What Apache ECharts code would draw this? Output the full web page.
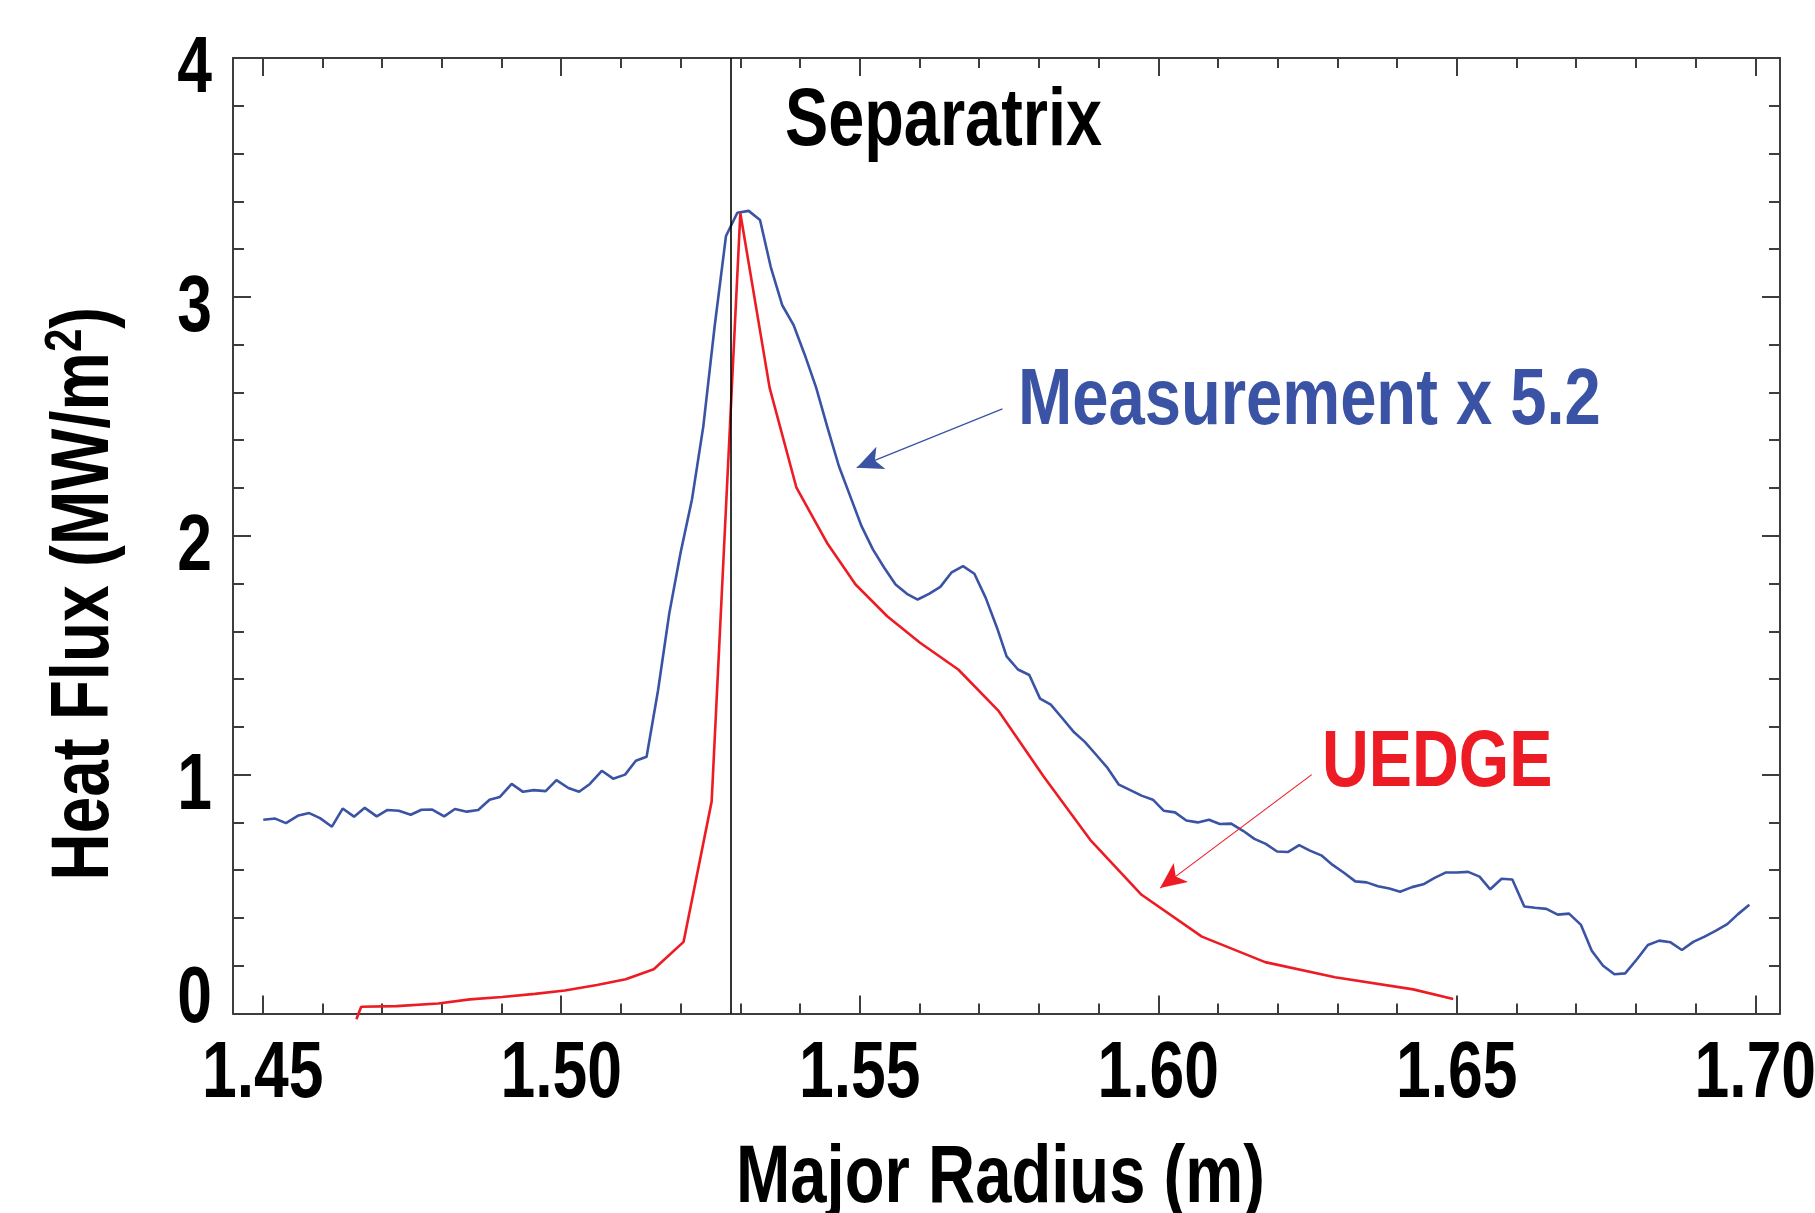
<!DOCTYPE html>
<html>
<head>
<meta charset="utf-8">
<title>Heat Flux vs Major Radius</title>
<script src="https://cdn.jsdelivr.net/npm/echarts@6/dist/echarts.min.js"></script>
<style>
  html, body { margin: 0; padding: 0; background: #ffffff; }
  #chart { width: 1815px; height: 1213px; }
</style>
</head>
<body>
<div id="chart"></div>
<script>
// Measured divertor heat flux (scaled by 5.2): major radius (m) and heat flux (MW/m^2)
const MEAS_R = [
  1.4501, 1.4521, 1.4539, 1.4560, 1.4578, 1.4596, 1.4616, 1.4634, 1.4653, 1.4671,
  1.4691, 1.4709, 1.4728, 1.4748, 1.4766, 1.4784, 1.4804, 1.4822, 1.4842, 1.4861,
  1.4880, 1.4897, 1.4917, 1.4936, 1.4954, 1.4974, 1.4992, 1.5012, 1.5030, 1.5048,
  1.5068, 1.5087, 1.5107, 1.5125, 1.5143, 1.5162, 1.5181, 1.5200, 1.5219, 1.5238,
  1.5257, 1.5276, 1.5295, 1.5314, 1.5333, 1.5351, 1.5370, 1.5389, 1.5408, 1.5427,
  1.5446, 1.5465, 1.5484, 1.5503, 1.5522, 1.5541, 1.5560, 1.5579, 1.5597, 1.5616,
  1.5635, 1.5654, 1.5673, 1.5692, 1.5711, 1.5730, 1.5746, 1.5765, 1.5784, 1.5802,
  1.5820, 1.5839, 1.5859, 1.5877, 1.5897, 1.5915, 1.5934, 1.5954, 1.5972, 1.5991,
  1.6009, 1.6028, 1.6047, 1.6066, 1.6085, 1.6103, 1.6122, 1.6142, 1.6161, 1.6180,
  1.6199, 1.6217, 1.6236, 1.6254, 1.6273, 1.6292, 1.6311, 1.6330, 1.6349, 1.6368,
  1.6387, 1.6405, 1.6425, 1.6444, 1.6462, 1.6481, 1.6500, 1.6519, 1.6538, 1.6556,
  1.6575, 1.6593, 1.6613, 1.6631, 1.6650, 1.6669, 1.6688, 1.6708, 1.6726, 1.6745,
  1.6764, 1.6782, 1.6802, 1.6820, 1.6839, 1.6858, 1.6877, 1.6896, 1.6915, 1.6934,
  1.6953, 1.6971, 1.6990
];
const MEAS_Q = [
  0.811, 0.816, 0.797, 0.829, 0.839, 0.818, 0.782, 0.858, 0.824, 0.861,
  0.825, 0.852, 0.849, 0.832, 0.853, 0.854, 0.825, 0.856, 0.845, 0.852,
  0.895, 0.906, 0.961, 0.928, 0.935, 0.931, 0.977, 0.944, 0.928, 0.961,
  1.016, 0.983, 1.000, 1.058, 1.075, 1.350, 1.675, 1.930, 2.152, 2.458,
  2.877, 3.255, 3.352, 3.360, 3.322, 3.125, 2.966, 2.883, 2.757, 2.620,
  2.453, 2.292, 2.166, 2.040, 1.943, 1.866, 1.796, 1.757, 1.733, 1.757,
  1.786, 1.847, 1.873, 1.841, 1.740, 1.614, 1.495, 1.440, 1.417, 1.318,
  1.293, 1.237, 1.177, 1.137, 1.080, 1.028, 0.958, 0.934, 0.912, 0.895,
  0.849, 0.842, 0.808, 0.800, 0.811, 0.793, 0.795, 0.765, 0.731, 0.710,
  0.678, 0.676, 0.705, 0.682, 0.662, 0.622, 0.589, 0.553, 0.549, 0.533,
  0.523, 0.510, 0.529, 0.541, 0.567, 0.590, 0.590, 0.593, 0.573, 0.520,
  0.564, 0.561, 0.448, 0.443, 0.438, 0.414, 0.418, 0.371, 0.263, 0.200,
  0.164, 0.168, 0.228, 0.287, 0.305, 0.298, 0.266, 0.300, 0.322, 0.347,
  0.374, 0.416, 0.455
];

// UEDGE simulation: major radius (m) and heat flux (MW/m^2)
const UEDGE_R = [
  1.4657, 1.4665, 1.4724, 1.4794, 1.4847, 1.4901, 1.4956, 1.5006, 1.5060, 1.5108,
  1.5155, 1.5205, 1.5252, 1.5300, 1.5349, 1.5394, 1.5445, 1.5493, 1.5546, 1.5601,
  1.5665, 1.5732, 1.5808, 1.5886, 1.5972, 1.6073, 1.6179, 1.6296, 1.6427, 1.6494
];
const UEDGE_Q = [
  -0.024, 0.028, 0.031, 0.042, 0.059, 0.069, 0.082, 0.096, 0.119, 0.143,
  0.185, 0.300, 0.888, 3.350, 2.620, 2.201, 1.971, 1.796, 1.663, 1.552,
  1.440, 1.268, 0.992, 0.727, 0.497, 0.322, 0.215, 0.152, 0.101, 0.061
];

// Separatrix position (m)
const SEPARATRIX_R = 1.5284;

// Annotation arrows: [tail, head] in (m, MW/m^2)
const MEAS_ARROW = [[1.5739, 2.531], [1.5495, 2.285]];
const UEDGE_ARROW = [[1.6257, 1.000], [1.6003, 0.525]];

// Axis ranges and tick positions
const X_RANGE = [1.44503, 1.70413];
const X_MAJOR_TICKS = [1.45, 1.50, 1.55, 1.60, 1.65, 1.70];
const X_MINOR_TICKS = [
  1.46, 1.47, 1.48, 1.49, 1.51, 1.52, 1.53, 1.54, 1.56, 1.57, 1.58, 1.59,
  1.61, 1.62, 1.63, 1.64, 1.66, 1.67, 1.68, 1.69
];
const Y_RANGE = [0, 4];
const Y_STEP = 1;
const Y_TICK_LABELS = [0, 1, 2, 3, 4];

// Text
const X_TITLE = 'Major Radius (m)';
const Y_TITLE_RICH = '{n|Heat Flux (MW/m}{s|2}{n|)}';
const NOTE_SEPARATRIX = 'Separatrix';
const NOTE_MEAS = 'Measurement x 5.2';
const NOTE_UEDGE = 'UEDGE';

// Bold condensed lettering: Liberation Sans Bold squeezed horizontally
const FONT = '"Liberation Sans", Arial, Helvetica, sans-serif';
const boldFont = size => 'bold ' + size + 'px ' + FONT;
const BLUE = '#3a53a4';
const RED = '#ed1c24';
const AXIS_COLOR = '#3d3d3d';

const zip = (xs, ys) => xs.map((x, i) => [x, ys[i]]);

const chart = echarts.init(document.getElementById('chart'), null, { renderer: 'canvas' });

function xAxisDef(position, ticks, len, withLine) {
  return {
    type: 'value',
    position: position,
    min: X_RANGE[0],
    max: X_RANGE[1],
    axisLine: { show: withLine, onZero: false, lineStyle: { color: AXIS_COLOR, width: 2 } },
    axisTick: { show: true, inside: true, length: len, customValues: ticks,
                lineStyle: { color: AXIS_COLOR, width: 2 } },
    axisLabel: { show: false },
    splitLine: { show: false }
  };
}

function yAxisDef(position) {
  return {
    type: 'value',
    position: position,
    min: Y_RANGE[0],
    max: Y_RANGE[1],
    interval: Y_STEP,
    axisLine: { show: true, onZero: false, lineStyle: { color: AXIS_COLOR, width: 2 } },
    axisTick: { show: true, inside: true, length: 18, lineStyle: { color: AXIS_COLOR, width: 2 } },
    minorTick: { show: true, splitNumber: 5, length: 11, lineStyle: { color: AXIS_COLOR, width: 2 } },
    axisLabel: { show: false },
    splitLine: { show: false },
    minorSplitLine: { show: false }
  };
}

const option = {
  backgroundColor: '#ffffff',
  animation: false,
  grid: { left: 233, right: 35, top: 58, bottom: 199.5, containLabel: false, outerBoundsMode: 'none' },
  xAxis: [
    xAxisDef('bottom', X_MAJOR_TICKS, 18, true),
    xAxisDef('bottom', X_MINOR_TICKS, 10, false),
    xAxisDef('top', X_MAJOR_TICKS, 18, true),
    xAxisDef('top', X_MINOR_TICKS, 10, false)
  ],
  yAxis: [yAxisDef('left'), yAxisDef('right')],
  series: [
    {
      name: 'Measurement x 5.2',
      type: 'line',
      data: zip(MEAS_R, MEAS_Q),
      showSymbol: false,
      clip: false,
      silent: true,
      z: 3,
      lineStyle: { color: BLUE, width: 2.6 },
      markLine: {
        silent: true,
        animation: false,
        precision: 4,
        label: { show: false },
        symbol: 'none',
        data: [
          [
            { coord: MEAS_ARROW[0], symbol: 'none' },
            { coord: MEAS_ARROW[1], symbol: 'arrow', symbolSize: [18, 26] }
          ]
        ],
        lineStyle: { color: BLUE, width: 1.3, type: 'solid' }
      }
    },
    {
      name: 'UEDGE',
      type: 'line',
      data: zip(UEDGE_R, UEDGE_Q),
      showSymbol: false,
      clip: false,
      silent: true,
      z: 4,
      lineStyle: { color: RED, width: 2.6 },
      markLine: {
        silent: true,
        animation: false,
        precision: 4,
        label: { show: false },
        symbol: 'none',
        data: [
          [
            { coord: UEDGE_ARROW[0], symbol: 'none' },
            { coord: UEDGE_ARROW[1], symbol: 'arrow', symbolSize: [18, 26] }
          ]
        ],
        lineStyle: { color: RED, width: 1.1, type: 'solid' }
      }
    },
    {
      // separatrix marker
      name: 'Separatrix',
      type: 'line',
      data: [],
      silent: true,
      z: 2,
      markLine: {
        silent: true,
        animation: false,
        precision: 4,
        symbol: 'none',
        label: { show: false },
        lineStyle: { color: '#000', width: 1.6, type: 'solid' },
        data: [{ xAxis: SEPARATRIX_R }]
      }
    }
  ]
};

chart.setOption(option);

// Tick labels, axis titles and annotations, placed through the axis scales
const toX = v => chart.convertToPixel({ xAxisIndex: 0 }, v);
const toY = v => chart.convertToPixel({ yAxisIndex: 0 }, v);
const plotLeft = toX(X_RANGE[0]);
const plotBottom = toY(Y_RANGE[0]);
const plotTop = toY(Y_RANGE[1]);

const texts = [];

X_MAJOR_TICKS.forEach(v => {
  texts.push({
    type: 'text', silent: true, x: toX(v), y: plotBottom + 61, scaleX: 0.78,
    style: { text: v.toFixed(2), font: boldFont(80), fill: '#000', align: 'center', verticalAlign: 'middle' }
  });
});

Y_TICK_LABELS.forEach(v => {
  const y = v === Y_RANGE[0] ? toY(v) - 14 : toY(v) + 12;
  texts.push({
    type: 'text', silent: true, x: plotLeft - 21, y: y, scaleX: 0.78,
    style: { text: String(v), font: boldFont(80), fill: '#000', align: 'right', verticalAlign: 'middle' }
  });
});

texts.push({
  type: 'text', silent: true, x: (toX(X_RANGE[0]) + toX(X_RANGE[1])) / 2 - 6, y: plotBottom + 166, scaleX: 0.805,
  style: { text: X_TITLE, font: boldFont(81), fill: '#000', align: 'center', verticalAlign: 'middle' }
});

texts.push({
  type: 'text', silent: true, x: 86, y: (plotTop + plotBottom) / 2 + 58, rotation: Math.PI / 2, scaleX: 0.81,
  style: {
    text: Y_TITLE_RICH, align: 'center', verticalAlign: 'middle',
    rich: {
      n: { font: boldFont(81), fill: '#000', lineHeight: 90 },
      s: { font: boldFont(52), fill: '#000', lineHeight: 30, verticalAlign: 'top' }
    }
  }
});

texts.push({
  type: 'text', silent: true, x: 785, y: 123, scaleX: 0.80,
  style: { text: NOTE_SEPARATRIX, font: boldFont(81), fill: '#000', align: 'left', verticalAlign: 'middle' }
});
texts.push({
  type: 'text', silent: true, x: 1018, y: 402, scaleX: 0.814,
  style: { text: NOTE_MEAS, font: boldFont(80), fill: BLUE, align: 'left', verticalAlign: 'middle' }
});
texts.push({
  type: 'text', silent: true, x: 1322, y: 764, scaleX: 0.81,
  style: { text: NOTE_UEDGE, font: boldFont(80), fill: RED, align: 'left', verticalAlign: 'middle' }
});

chart.setOption({ graphic: texts });
</script>
</body>
</html>
